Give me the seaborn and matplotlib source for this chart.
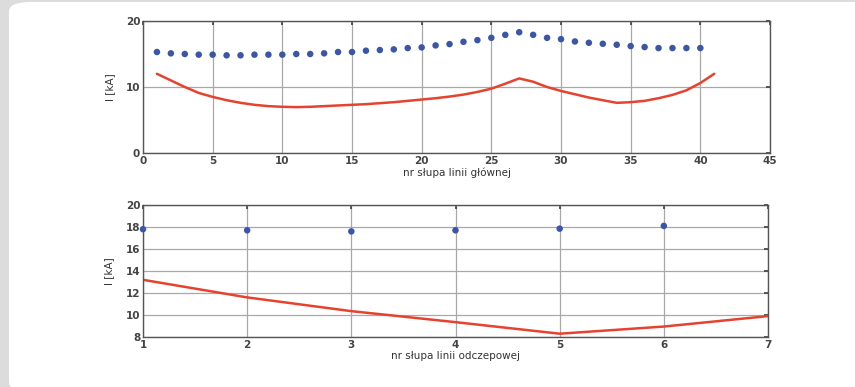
import numpy as np
import pandas as pd
import matplotlib
matplotlib.use("Agg")
import matplotlib.pyplot as plt
from matplotlib.patches import FancyBboxPatch
import seaborn as sns

sns.set_theme(style="whitegrid")
plt.rcParams['font.family'] = ['DejaVu Sans']

# main line: tower number, measured points and computed curve
main_nr = list(range(1, 41))
main_pts = [15.3, 15.1, 15.0, 14.9, 14.9, 14.8, 14.8, 14.9, 14.9, 14.9,
            15.0, 15.0, 15.1, 15.3, 15.3, 15.5, 15.6, 15.7, 15.9, 16.0,
            16.3, 16.5, 16.85, 17.1, 17.45, 17.9, 18.3, 17.9, 17.45, 17.25,
            16.9, 16.7, 16.55, 16.4, 16.2, 16.05, 15.9, 15.9, 15.9, 15.9]
main_curve_nr = list(range(1, 42))
main_curve = [12.0, 11.0, 10.0, 9.1, 8.5, 8.0, 7.6, 7.3, 7.1, 7.0,
              6.95, 7.0, 7.1, 7.2, 7.3, 7.4, 7.55, 7.7, 7.9, 8.1,
              8.3, 8.55, 8.85, 9.25, 9.75, 10.5, 11.3, 10.8, 10.0, 9.4,
              8.9, 8.4, 8.0, 7.6, 7.7, 7.9, 8.3, 8.8, 9.5, 10.6, 12.0]

# branch line
branch_pts_nr = [1, 2, 3, 4, 5, 6]
branch_pts = [17.8, 17.7, 17.6, 17.7, 17.85, 18.1]
branch_curve_nr = [1, 2, 3, 4, 5, 6, 7]
branch_curve = [13.2, 11.6, 10.35, 9.35, 8.3, 8.95, 9.9]

blue = "#3b56a8"
red = "#e5432f"

fig = plt.figure(figsize=(8.55, 3.87), dpi=100)
fig.patch.set_facecolor("#dcdcdc")
panel = FancyBboxPatch((9 / 855, -0.012), 1.2, 1 - 2 / 387 + 0.012,
                       boxstyle="round,pad=0,rounding_size=0.025",
                       transform=fig.transFigure, facecolor="white",
                       edgecolor="none", zorder=-10)
fig.patches.append(panel)

ax1 = fig.add_axes([143 / 855, 1 - 153 / 387, 627 / 855, 132 / 387])
ax2 = fig.add_axes([143 / 855, 1 - 337 / 387, 625 / 855, 132 / 387])

df_main_pts = pd.DataFrame({"nr": main_nr, "I": main_pts})
df_main_curve = pd.DataFrame({"nr": main_curve_nr, "I": main_curve})
df_br_pts = pd.DataFrame({"nr": branch_pts_nr, "I": branch_pts})
df_br_curve = pd.DataFrame({"nr": branch_curve_nr, "I": branch_curve})

sns.scatterplot(data=df_main_pts, x="nr", y="I", ax=ax1, color=blue,
                s=22, edgecolor="none", zorder=3)
sns.lineplot(data=df_main_curve, x="nr", y="I", ax=ax1, color=red,
             linewidth=1.8, zorder=2)
sns.scatterplot(data=df_br_pts, x="nr", y="I", ax=ax2, color=blue,
                s=22, edgecolor="none", zorder=3, clip_on=False)
sns.lineplot(data=df_br_curve, x="nr", y="I", ax=ax2, color=red,
             linewidth=1.8, zorder=2)

ax1.set_xlim(0, 45)
ax1.set_ylim(0, 20)
ax1.set_xticks(range(0, 46, 5))
ax1.set_yticks([0, 10, 20])
ax1.set_xlabel("nr słupa linii głównej", fontsize=7.5, color="#333333", labelpad=1)

ax2.set_xlim(1, 7)
ax2.set_ylim(8, 20)
ax2.set_xticks(range(1, 8))
ax2.set_yticks(range(8, 21, 2))
ax2.set_xlabel("nr słupa linii odczepowej", fontsize=7.5, color="#333333", labelpad=1)

for ax in (ax1, ax2):
    ax.set_ylabel("I [kA]", fontsize=7.5, color="#333333", labelpad=8)
    ax.set_facecolor("white")
    ax.grid(True, color="#a8a8a8", linewidth=0.9)
    ax.tick_params(axis="both", labelsize=7.5, colors="#444444", length=3,
                   direction="in", pad=2, top=True, right=True)
    for t in ax.get_xticklabels() + ax.get_yticklabels():
        t.set_fontweight("bold")
    for s in ax.spines.values():
        s.set_color("#555555")
        s.set_linewidth(1.0)

fig.savefig("out.png", dpi=100, facecolor=fig.get_facecolor())
